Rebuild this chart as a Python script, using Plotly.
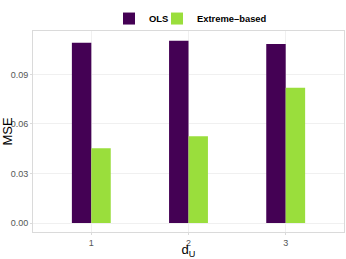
import plotly.graph_objects as go

categories = ["1", "2", "3"]
ols_values = [0.1092, 0.1104, 0.1084]
extreme_values = [0.0453, 0.0525, 0.0820]
series_names = ["<b>OLS</b>", "<b>Extreme\u2013based</b>"]
y_ticks = [0.00, 0.03, 0.06, 0.09]
y_tick_labels = ["0.00", "0.03", "0.06", "0.09"]

fig = go.Figure()
fig.add_trace(go.Bar(x=categories, y=ols_values, name=series_names[0], legend="legend",
                     marker=dict(color="#440154", line=dict(width=0))))
fig.add_trace(go.Bar(x=categories, y=extreme_values, name=series_names[1], legend="legend2",
                     marker=dict(color="#9ADE3C", line=dict(width=0))))

legend_font = dict(size=9.4, color="black", family="Liberation Sans, Arial, sans-serif")
fig.update_layout(
    width=346, height=259,
    margin=dict(l=33, r=2, t=31, b=27),
    barmode="group", bargap=0.6, bargroupgap=0,
    plot_bgcolor="white", paper_bgcolor="white",
    font=dict(family="Liberation Sans, Arial, sans-serif", color="#4d4d4d"),
    showlegend=True,
    legend=dict(orientation="h", x=0.2444, xanchor="left", y=1.062, yanchor="middle",
                font=legend_font, itemwidth=30, bgcolor="rgba(0,0,0,0)"),
    legend2=dict(orientation="h", x=0.3987, xanchor="left", y=1.062, yanchor="middle",
                 font=legend_font, itemwidth=30, bgcolor="rgba(0,0,0,0)"),
)
fig.update_xaxes(
    type="category", range=[-0.6, 2.6], automargin=False,
    showgrid=True, gridcolor="#f0f0f0", gridwidth=1,
    showline=True, linecolor="#dadada", linewidth=1, mirror=True,
    ticks="outside", ticklen=2, tickcolor="#dadada",
    tickfont=dict(size=9, color="#555555"),
    title=dict(text="d<sub>U</sub>", font=dict(size=13, color="black"), standoff=0),
)
fig.update_yaxes(
    range=[-0.00544, 0.1163], automargin=False,
    tickvals=y_ticks, ticktext=y_tick_labels,
    showgrid=True, gridcolor="#f0f0f0", gridwidth=1, zeroline=False,
    showline=True, linecolor="#dadada", linewidth=1, mirror=True,
    ticks="outside", ticklen=2, tickcolor="#dadada",
    tickfont=dict(size=9, color="#555555"),
    title=dict(text="MSE", font=dict(size=13, color="black"), standoff=0),
)
fig.write_html("out.html", config={"displayModeBar": False},
               post_script="document.body.style.margin='0';document.body.style.overflow='hidden';")
